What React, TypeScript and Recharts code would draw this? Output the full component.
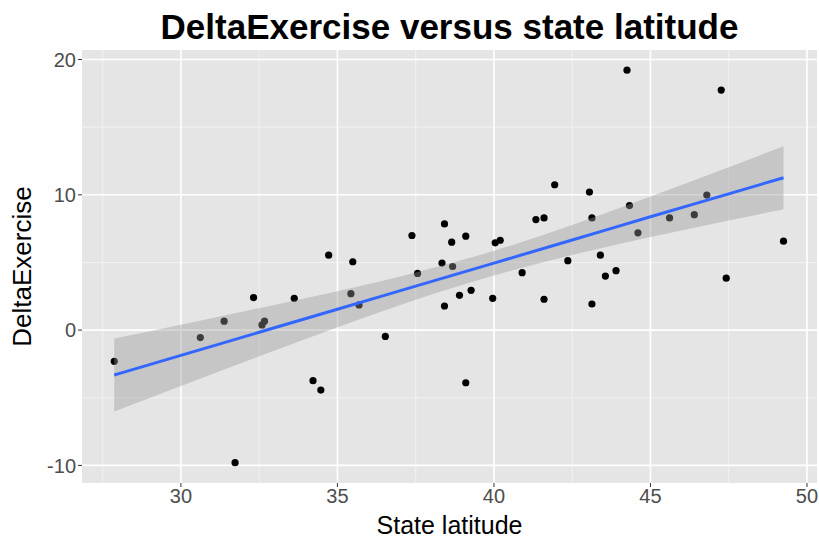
import React from 'react';
import {
  ComposedChart,
  Scatter,
  Line,
  Area,
  XAxis,
  YAxis,
  CartesianGrid,
} from 'recharts';

// state latitude vs DeltaExercise
const latitude = [
  27.87, 30.62, 31.38, 31.73, 32.32, 32.59, 32.67, 33.62, 34.22, 34.47,
  34.72, 35.43, 35.49, 35.69, 36.53, 37.38, 37.56, 38.34, 38.42, 38.42,
  38.65, 38.68, 38.9, 39.1, 39.1, 39.27, 39.96, 40.04, 40.2, 40.9,
  41.34, 41.6, 41.6, 41.94, 42.36, 43.05, 43.13, 43.13, 43.4, 43.56,
  43.9, 44.25, 44.33, 44.6, 45.61, 46.4, 46.8, 47.26, 47.42, 49.25,
];
const deltaExercise = [
  -2.31, -0.55, 0.66, -9.8, 2.4, 0.38, 0.66, 2.35, -3.74, -4.43,
  5.54, 2.69, 5.05, 1.86, -0.47, 6.99, 4.19, 4.95, 7.85, 1.78,
  6.5, 4.7, 2.57, 6.94, -3.89, 2.94, 2.35, 6.45, 6.64, 4.24,
  8.17, 8.29, 2.28, 10.74, 5.13, 10.2, 8.29, 1.93, 5.54, 3.99,
  4.39, 19.21, 9.2, 7.19, 8.29, 8.53, 9.98, 17.74, 3.84, 6.57,
];

// linear fit and its confidence band, read at a few latitudes
const fitX = [27.87, 30, 32.5, 35, 37.5, 40, 42.5, 45, 47.5, 49.25];
const fitY = [-3.32, -1.87, -0.16, 1.54, 3.25, 4.95, 6.66, 8.38, 10.07, 11.26];
const bandLow = [-6.02, -4.14, -1.94, 0.21, 2.25, 4.04, 5.55, 6.88, 8.1, 8.94];
const bandHigh = [-0.62, 0.4, 1.62, 2.87, 4.25, 5.86, 7.77, 9.88, 12.04, 13.58];

const xTicks = [30, 35, 40, 45, 50];
const yTicks = [-10, 0, 10, 20];
const xMinor = [27.5, 32.5, 37.5, 42.5, 47.5];
const yMinor = [-5, 5, 15];

const points = latitude.map((x, i) => ({ x, y: deltaExercise[i] }));
const fitData = fitX.map((x, i) => ({
  x,
  fit: fitY[i],
  band: [bandLow[i], bandHigh[i]],
}));

const font = '"Liberation Sans", Arial, sans-serif';

export default function App() {
  return (
    <div style={{ position: 'absolute', left: 0, top: 0, width: 819, height: 540, background: '#fff', fontFamily: font }}>
      <div
        style={{
          position: 'absolute',
          left: 82,
          width: 735,
          top: 9,
          textAlign: 'center',
          fontSize: 35,
          fontWeight: 'bold',
          color: '#000',
          lineHeight: '36px',
          whiteSpace: 'nowrap',
        }}
      >
        DeltaExercise versus state latitude
      </div>
      <ComposedChart
        width={819}
        height={540}
        data={fitData}
        margin={{ top: 50, right: 2, left: 0, bottom: 0 }}
      >
        <CartesianGrid
          fill="#e5e5e5"
          stroke="#f5f5f5"
          strokeWidth={0.8}
          horizontalValues={yMinor}
          verticalValues={xMinor}
        />
        <CartesianGrid
          stroke="#ffffff"
          strokeWidth={1.6}
          horizontalValues={yTicks}
          verticalValues={xTicks}
        />
        <XAxis
          type="number"
          dataKey="x"
          domain={[26.84, 50.32]}
          ticks={xTicks}
          allowDataOverflow
          height={57}
          axisLine={false}
          tickLine={{ stroke: '#333', strokeWidth: 1 }}
          tickSize={4}
          tick={{ fill: '#4d4d4d', fontSize: 20, fontFamily: font }}
          label={{ value: 'State latitude', position: 'insideBottom', offset: 6, fill: '#000', fontSize: 25, fontFamily: font }}
        />
        <YAxis
          type="number"
          domain={[-11.3, 20.7]}
          ticks={yTicks}
          allowDataOverflow
          width={82}
          axisLine={false}
          tickLine={{ stroke: '#333', strokeWidth: 1 }}
          tickSize={4}
          tick={{ fill: '#4d4d4d', fontSize: 20, fontFamily: font }}
          label={{ value: 'DeltaExercise', angle: -90, position: 'insideLeft', offset: 22, fill: '#000', fontSize: 26, fontFamily: font, style: { textAnchor: 'middle' } }}
        />
        <Scatter
          data={points}
          dataKey="y"
          fill="#000"
          zIndex={100}
          shape={(p: any) => <circle cx={p.cx} cy={p.cy} r={3.6} fill="#000" />}
          isAnimationActive={false}
        />
        <Area
          type="monotone"
          dataKey="band"
          fill="#999999"
          fillOpacity={0.4}
          stroke="none"
          zIndex={300}
          activeDot={false}
          isAnimationActive={false}
        />
        <Line
          type="monotone"
          dataKey="fit"
          stroke="#3366ff"
          strokeWidth={3}
          zIndex={400}
          dot={false}
          activeDot={false}
          isAnimationActive={false}
        />
      </ComposedChart>
    </div>
  );
}
